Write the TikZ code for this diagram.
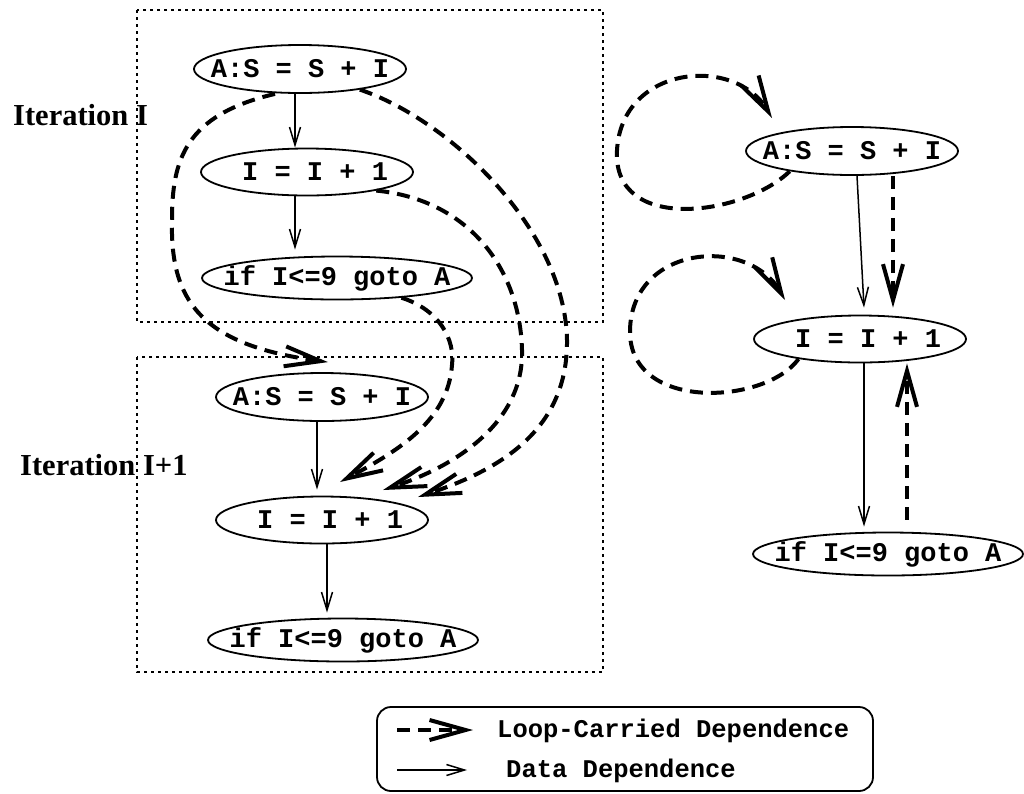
\documentclass[tikz,border=0pt]{standalone}
\usepackage{fontspec}
\setmainfont{Liberation Serif}
\setmonofont{Liberation Mono}
\usetikzlibrary{arrows.meta,shapes.geometric}

% statement text sits over a zero-width box so the ellipse keeps its set size
\newcommand{\stmttxt}[1]{\makebox[0pt]{#1}}

\begin{document}
\begin{tikzpicture}[x=1pt,y=-1pt,
  stmt/.style={draw, ellipse, line width=1.8pt, inner sep=0pt,
    font=\ttfamily\bfseries\fontsize{27}{30}\selectfont},
  stmtA/.style={stmt, minimum width=212pt, minimum height=48pt},
  stmtI/.style={stmt, minimum width=212pt, minimum height=47pt},
  stmtC/.style={stmt, minimum width=270pt, minimum height=43pt},
  dep/.style={line width=1.5pt, -{Straight Barb[length=18pt,width=11pt]}},
  lcd/.style={line width=4pt, dash pattern=on 13pt off 8pt,
    -{Straight Barb[length=36pt,width=20pt]}},
  itbox/.style={line width=1.6pt, dash pattern=on 3pt off 4pt},
  iterlabel/.style={inner sep=0pt, anchor=base west,
    font=\bfseries\fontsize{30.5}{34}\selectfont},
  legtext/.style={inner sep=0pt, anchor=base west,
    font=\ttfamily\bfseries\fontsize{25.5}{28}\selectfont},
]
\useasboundingbox (0,0) rectangle (1024,793);

% iteration frames
\draw[itbox] (137,10) rectangle (603,322);
\draw[itbox] (137,357) rectangle (603,672);
\node[iterlabel] (lab1) at (13,125) {Iteration I};
\node[iterlabel] (lab2) at (20,475) {Iteration I+1};

% iteration I
\node[stmtA] (A1) at (300,69)  {\stmttxt{A:S = S + I}};
\node[stmtI] (I1) at (307,172) {\stmttxt{~I = I + 1}};
\node[stmtC] (C1) at (337,278) {\stmttxt{if I<=9 goto A}};
% iteration I+1
\node[stmtA] (A2) at (322,397) {\stmttxt{A:S = S + I}};
\node[stmtI] (I2) at (322,520) {\stmttxt{~I = I + 1}};
\node[stmtC] (C2) at (343,640) {\stmttxt{if I<=9 goto A}};
% folded loop body
\node[stmtA] (A3) at (852,151) {\stmttxt{A:S = S + I}};
\node[stmtI] (I3) at (860,339) {\stmttxt{~I = I + 1}};
\node[stmtC] (C3) at (888,554) {\stmttxt{if I<=9 goto A}};

% data dependences
\draw[dep] ([xshift=-5pt]A1.south) -- ([xshift=-12pt]I1.north);
\draw[dep] ([xshift=-12pt]I1.south) -- ([shift={(-42,-6)}]C1.north);
\draw[dep] ([xshift=-5pt]A2.south) -- ([shift={(-5,-6)}]I2.north);
\draw[dep] ([xshift=5pt]I2.south) -- ([shift={(-16,-5)}]C2.north);
\draw[dep] ([xshift=5pt]A3.south) -- ([shift={(4,-7)}]I3.north);
\draw[dep] ([xshift=4pt]I3.south) -- ([shift={(-24,-5)}]C3.north);

% loop-carried dependences across iterations
\draw[lcd] ([xshift=-25pt]A1.south) .. controls (185,115) and (172,160) .. (172,220)
  .. controls (170,300) and (200,345) .. ([shift={(6,-10)}]A2.north);
\draw[lcd] (A1.-19) .. controls (450,120) and (565,230) .. (567,340)
  .. controls (568,430) and (500,470) .. ([shift={(96,-23)}]I2.center);
\draw[lcd] (I1.-15) .. controls (470,200) and (520,270) .. (522,350)
  .. controls (524,420) and (460,465) .. ([shift={(61,-30)}]I2.center);
\draw[lcd] (C1.-17) .. controls (440,310) and (455,340) .. (452,365)
  .. controls (448,420) and (400,450) .. ([shift={(18,-38)}]I2.center);

% loop-carried dependences in the folded body
\draw[lcd] (A3.198) .. controls (745,215) and (612,235) .. (617,150)
  .. controls (622,65) and (735,55) .. ([shift={(-80,-33)}]A3.center);
\draw[lcd] (I3.198) .. controls (765,405) and (628,412) .. (630,330)
  .. controls (632,245) and (748,235) .. ([shift={(-75,-39)}]I3.center);
\draw[lcd] ([xshift=41pt]A3.south) -- ([shift={(33,-7)}]I3.north);
\draw[lcd] ([shift={(19,-12)}]C3.north) -- ([shift={(47,0)}]I3.south);

% legend
\node[draw, rounded corners=14pt, line width=1.8pt, minimum width=496pt,
  minimum height=84pt, inner sep=0pt] (legend) at (625,749) {};
\coordinate (lcdA) at ([shift={(-228,-19)}]legend.center);
\coordinate (lcdB) at ([shift={(-152,-19)}]legend.center);
\coordinate (depA) at ([shift={(-228,21)}]legend.center);
\coordinate (depB) at ([shift={(-158,21)}]legend.center);
\draw[lcd] (lcdA) -- (lcdB);
\draw[dep] (depA) -- (depB);
\node[legtext] (lcdtext) at ([shift={(-128,-12)}]legend.center) {Loop-Carried Dependence};
\node[legtext] (deptext) at ([shift={(-119,28)}]legend.center) {Data Dependence};
\end{tikzpicture}
\end{document}
